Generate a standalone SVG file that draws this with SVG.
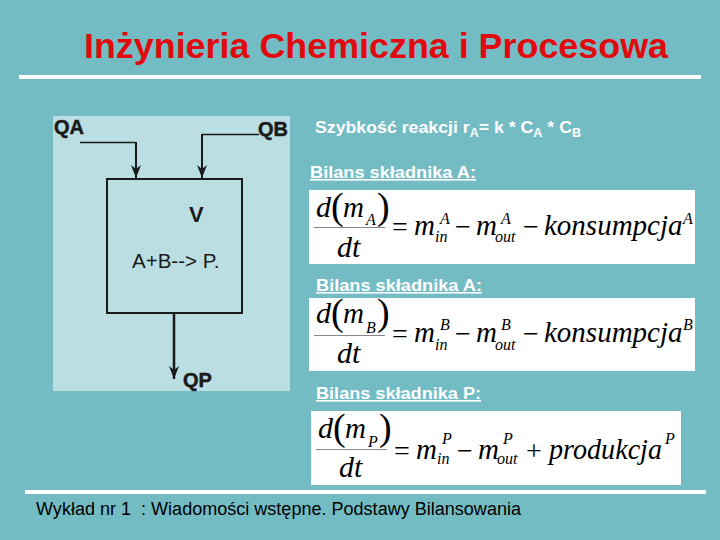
<svg xmlns="http://www.w3.org/2000/svg" width="720" height="540" viewBox="0 0 720 540">
<style>
.s{font-family:"Liberation Sans",Arial,sans-serif}
.w{fill:#fff;font-weight:700}
.u{text-decoration:underline}
.k{fill:#1a1a1a}
.b{font-weight:700;font-size:20px;stroke:#1a1a1a;stroke-width:.5}
.e{font-family:"Liberation Serif","Times New Roman",serif;font-style:italic;fill:#000}
.m{font-size:29px}
.l{font-size:30px}
.x{font-size:16px}
.n{font-style:normal;font-size:28px}
.p{font-style:normal;font-size:38px}
.c{stroke:#1a1a1a;fill:none}
.f{stroke:#888;fill:none}
</style>
<defs>
<marker id="ah" markerUnits="userSpaceOnUse" markerWidth="13" markerHeight="11" refX="13" refY="5.500" orient="auto" viewBox="0 0 13 11"><path d="M0 0.500L4 5.500L0 10.500L13 5.500Z" fill="#1a1a1a"/></marker>
</defs>
<rect width="720" height="540" fill="#73bcc4"/>
<g id="title"><text class="s" x="84" y="58" font-size="35" font-weight="700" fill="#e00a0f" textLength="584" lengthAdjust="spacingAndGlyphs">Inżynieria Chemiczna i Procesowa</text></g>
<rect id="rule-top" x="19" y="75" width="682" height="4" fill="#fff"/>
<rect id="rule-bottom" x="25" y="490" width="681" height="4" fill="#fff"/>
<rect id="panel" x="53" y="116" width="237" height="275" fill="#bbdee3"/>
<g id="reactor"><rect x="107" y="179" width="135" height="134" fill="none" stroke="#1a1a1a" stroke-width="2"/>
<text class="s k" x="189" y="222" font-size="22" font-weight="700">V</text>
<text class="s k" x="132" y="268" font-size="20.500">A+B--&gt; P.</text></g>
<g id="connectors">
<path class="c" stroke-width="1.300" d="M80 142.500H135.500"/>
<path class="c" stroke-width="2" d="M136 142V178" marker-end="url(#ah)"/>
<path class="c" stroke-width="1.500" d="M259 134.500H202"/>
<path class="c" stroke-width="2" d="M202 134V178" marker-end="url(#ah)"/>
<path class="c" stroke-width="2.500" d="M174 314V379" marker-end="url(#ah)"/>
</g>
<g id="qa"><text class="s k b" x="54" y="134">QA</text></g>
<g id="qb"><text class="s k b" x="258" y="136">QB</text></g>
<g id="qp"><text class="s k b" x="183" y="387">QP</text></g>
<g id="rate"><text class="s w" x="315" y="133" font-size="17" textLength="266" lengthAdjust="spacingAndGlyphs">Szybkość reakcji r<tspan font-size="12" dy="4">A</tspan><tspan dy="-4">= k * C</tspan><tspan font-size="12" dy="4">A</tspan><tspan dy="-4"> * C</tspan><tspan font-size="12" dy="4">B</tspan></text></g>
<g id="h1"><text class="s w u" x="310" y="178" font-size="16" textLength="166" lengthAdjust="spacingAndGlyphs">Bilans składnika A:</text></g>
<g id="h2"><text class="s w u" x="316" y="291" font-size="16" textLength="166" lengthAdjust="spacingAndGlyphs">Bilans składnika A:</text></g>
<g id="h3"><text class="s w u" x="316" y="399" font-size="16" textLength="165" lengthAdjust="spacingAndGlyphs">Bilans składnika P:</text></g>
<g id="eq1"><rect x="309" y="190" width="386" height="74" fill="#fff"/>
<path class="f" d="M314 227.500H385"/>
<text class="e l" x="316" y="217">d</text><text class="e p" x="331" y="219">(</text><text class="e m" x="343" y="217">m</text><text class="e x" x="366" y="225">A</text><text class="e p" x="377" y="219">)</text>
<text class="e l" x="337" y="257">dt</text>
<text class="e n" x="392" y="236">=</text>
<text class="e m" x="414" y="235">m</text><text class="e x" x="440" y="224">A</text><text class="e x" x="435" y="242">in</text>
<text class="e n" x="455" y="236">−</text>
<text class="e m" x="476" y="235">m</text><text class="e x" x="501" y="224">A</text><text class="e x" x="495" y="242">out</text>
<text class="e n" x="523" y="236">−</text>
<text class="e m" x="544" y="235">konsumpcja</text><text class="e x" x="683" y="224">A</text></g>
<g id="eq2"><rect x="309" y="298" width="386" height="73" fill="#fff"/>
<path class="f" d="M314 335.500H385"/>
<text class="e l" x="316" y="323">d</text><text class="e p" x="331" y="325">(</text><text class="e m" x="343" y="323">m</text><text class="e x" x="366" y="333">B</text><text class="e p" x="377" y="325">)</text>
<text class="e l" x="337" y="363">dt</text>
<text class="e n" x="392" y="343">=</text>
<text class="e m" x="414" y="342">m</text><text class="e x" x="440" y="330">B</text><text class="e x" x="435" y="350">in</text>
<text class="e n" x="455" y="343">−</text>
<text class="e m" x="476" y="342">m</text><text class="e x" x="501" y="330">B</text><text class="e x" x="495" y="350">out</text>
<text class="e n" x="523" y="343">−</text>
<text class="e m" x="544" y="342">konsumpcja</text><text class="e x" x="683" y="330">B</text></g>
<g id="eq3"><rect x="311" y="411" width="370" height="74" fill="#fff"/>
<path class="f" d="M316 449.500H387"/>
<text class="e l" x="318" y="438">d</text><text class="e p" x="333" y="440">(</text><text class="e m" x="345" y="438">m</text><text class="e x" x="368" y="447">P</text><text class="e p" x="379" y="440">)</text>
<text class="e l" x="339" y="477">dt</text>
<text class="e n" x="394" y="460">=</text>
<text class="e m" x="416" y="459">m</text><text class="e x" x="442" y="444">P</text><text class="e x" x="437" y="464">in</text>
<text class="e n" x="457" y="460">−</text>
<text class="e m" x="478" y="459">m</text><text class="e x" x="503" y="444">P</text><text class="e x" x="497" y="464">out</text>
<text class="e n" x="526" y="460">+</text>
<text class="e m" x="549" y="459" textLength="113" lengthAdjust="spacingAndGlyphs">produkcja</text><text class="e x" x="665" y="444">P</text></g>
<g id="footer"><text class="s" x="36" y="515" font-size="18" fill="#000" textLength="485" lengthAdjust="spacingAndGlyphs" xml:space="preserve">Wykład nr 1  : Wiadomości wstępne. Podstawy Bilansowania</text></g>
</svg>
